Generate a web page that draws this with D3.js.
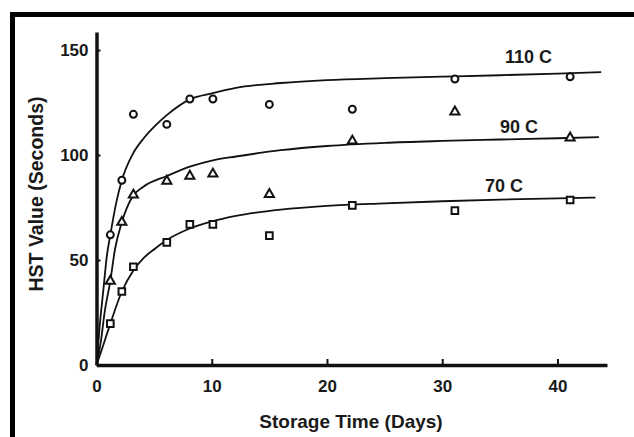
<!DOCTYPE html>
<html>
<head>
<meta charset="utf-8">
<script src="https://cdn.jsdelivr.net/npm/d3@7"></script>
<style>
  body { margin: 0; background: #fff; }
  text { font-family: "Liberation Sans", Arial, sans-serif; font-weight: bold; fill: #1a1a1a; }
</style>
</head>
<body>
<div id="chart"></div>
<script>
// sampling days
const days = [1.2, 2.2, 3.2, 6.1, 8.1, 10.1, 15, 22.2, 31.1, 41.1];

// measured HST values per temperature
const hst110 = [62, 88, 119.4, 114.6, 126.7, 126.7, 124.1, 121.8, 136.2, 137.3];
const hst90 = [40, 68, 81, 87.6, 90, 91, 81.3, 106.7, 120.6, 108.2];
const hst70 = [19.7, 35, 46.8, 58.4, 67, 67, 61.6, 76, 73.5, 78.6];

// fitted curves
const curveDays110 = [0, 0.3, 0.6, 0.9, 1.2, 1.7, 2.2, 3.1, 4.1, 5.1, 6.1, 8.1, 10.1, 12.1, 16, 20, 25, 30, 35, 40, 43.8];
const curve110 = [0, 20, 36, 52, 62, 77, 88, 100, 108, 114, 119, 126.5, 129.5, 132, 134.3, 135.7, 136.6, 137.3, 138, 138.8, 139.5];
const curveDays90 = [0, 0.4, 0.7, 1.2, 1.6, 2.2, 3.1, 4.1, 6.1, 8.1, 10.1, 12.1, 16, 20, 25, 30, 35, 40, 43.6];
const curve90 = [0, 12, 25, 40, 55, 68, 80, 85, 90, 94.5, 97.5, 99.3, 102.3, 104.3, 105.8, 106.7, 107.4, 108, 108.5];
const curveDays70 = [0, 0.5, 1.2, 2.2, 3.2, 4.1, 5.1, 6.1, 8.1, 10.1, 12.1, 16, 20, 25, 30, 35, 40, 43.3];
const curve70 = [0, 8, 19.7, 35, 45, 51, 55.5, 59.5, 65, 68.5, 71, 74, 75.8, 77, 78, 78.8, 79.4, 79.7];

const seriesLabels = ["110 C", "90 C", "70 C"];
const xTicks = [0, 10, 20, 30, 40];
const yTicks = [0, 50, 100, 150];

const width = 634, height = 437;

const svg = d3.select("#chart").append("svg")
  .attr("width", width)
  .attr("height", height);

// cadre noir (gauche + haut)
svg.append("rect").attr("x", 10).attr("y", 12).attr("width", 5).attr("height", height - 12).attr("fill", "#000");
svg.append("rect").attr("x", 10).attr("y", 12).attr("width", width - 10).attr("height", 5).attr("fill", "#000");

const x = d3.scaleLinear().domain([0, 44.3]).range([96.5, 607]);
const y = d3.scaleLinear().domain([0, 158.6]).range([365, 32]);

// axes
const xAxis = svg.append("g")
  .attr("transform", `translate(0,${y(0)})`)
  .call(d3.axisBottom(x).tickValues(xTicks).tickSize(-6).tickPadding(15).tickSizeOuter(0));
const yAxis = svg.append("g")
  .attr("transform", `translate(${x(0)},0)`)
  .call(d3.axisLeft(y).tickValues(yTicks).tickSize(-4).tickPadding(8).tickSizeOuter(0));

[xAxis, yAxis].forEach(g => {
  g.select(".domain").attr("stroke", "#111").attr("stroke-width", 3.5);
  g.selectAll(".tick line").attr("stroke", "#111").attr("stroke-width", 2);
  g.selectAll(".tick text")
    .attr("fill", "#1a1a1a")
    .style("font-size", "17px")
    .style("font-family", "'Liberation Sans', Arial, sans-serif")
    .style("font-weight", "bold");
});

// titres des axes
svg.append("text")
  .attr("x", 351).attr("y", 428)
  .attr("text-anchor", "middle")
  .style("font-size", "19px")
  .text("Storage Time (Days)");

svg.append("text")
  .attr("transform", `translate(43,194) rotate(-90)`)
  .attr("text-anchor", "middle")
  .style("font-size", "19.5px")
  .text("HST Value (Seconds)");

// courbes ajustées
const line = d3.line()
  .x(d => x(d[0]))
  .y(d => y(d[1]))
  .curve(d3.curveMonotoneX);

const curves = [
  d3.zip(curveDays110, curve110),
  d3.zip(curveDays90, curve90),
  d3.zip(curveDays70, curve70)
];

svg.selectAll("path.fit")
  .data(curves)
  .enter()
  .append("path")
  .attr("class", "fit")
  .attr("d", line)
  .attr("fill", "none")
  .attr("stroke", "#111")
  .attr("stroke-width", 1.8);

// points mesurés
const symbols = [d3.symbolCircle, d3.symbolTriangle, d3.symbolSquare];
const sizes = [38, 36, 44];
const measured = [hst110, hst90, hst70];

measured.forEach((vals, i) => {
  svg.append("g").selectAll("path")
    .data(d3.zip(days, vals))
    .enter()
    .append("path")
    .attr("d", d3.symbol().type(symbols[i]).size(sizes[i]))
    .attr("transform", d => `translate(${x(d[0])},${y(d[1])})`)
    .attr("fill", "#fff")
    .attr("stroke", "#111")
    .attr("stroke-width", 2);
});

// étiquettes des courbes
const labelPos = [[505, 63], [500, 133], [485, 192]];
svg.selectAll("text.lbl")
  .data(seriesLabels)
  .enter()
  .append("text")
  .attr("class", "lbl")
  .attr("x", (d, i) => labelPos[i][0])
  .attr("y", (d, i) => labelPos[i][1])
  .style("font-size", "18px")
  .text(d => d);
</script>
</body>
</html>
